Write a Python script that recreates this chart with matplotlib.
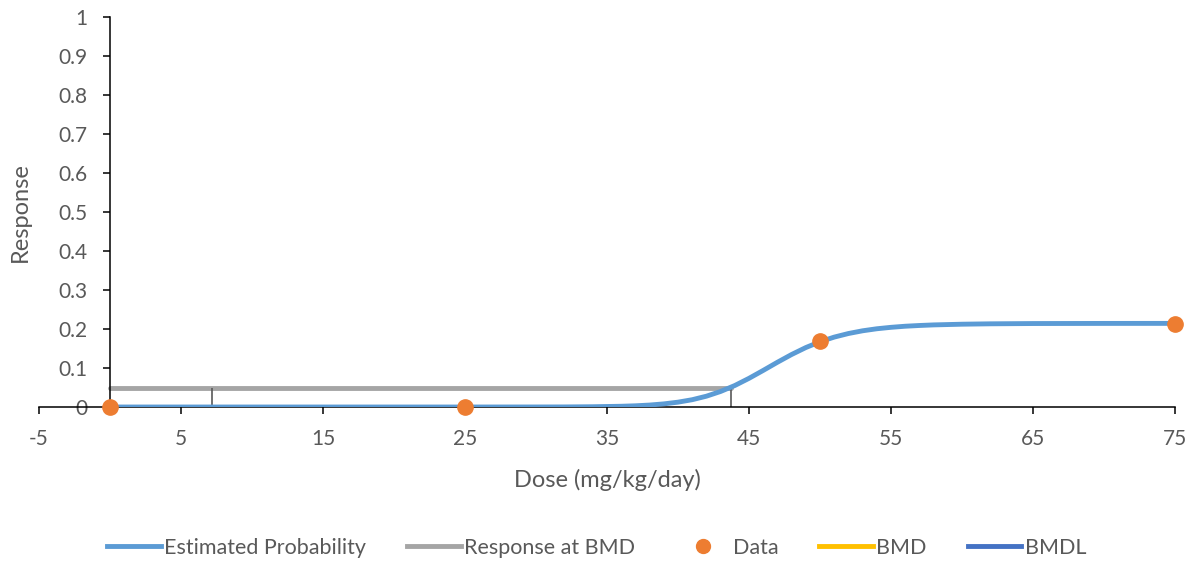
import matplotlib
matplotlib.use("Agg")
import matplotlib.pyplot as plt
from matplotlib.lines import Line2D

plt.rcParams['font.family'] = ['Lato', 'DejaVu Sans']

# Estimated probability curve
curve_dose = [0, 5, 10, 15, 20, 25, 30, 32, 34, 36, 37, 38, 39, 40, 41, 42, 43, 44,
              45, 46, 47, 48, 49, 50, 51, 52, 53, 54, 55, 56, 57, 58, 60, 62, 65, 70, 75]
curve_resp = [0.0, 0.0, 0.0, 0.0, 0.0, 0.0, 0.0001, 0.0002, 0.0007, 0.0019, 0.0031,
              0.0050, 0.0080, 0.0124, 0.0187, 0.0277, 0.0398, 0.0551, 0.0735, 0.0938,
              0.1147, 0.1346, 0.1524, 0.1673, 0.1792, 0.1884, 0.1954, 0.2006, 0.2043,
              0.2071, 0.2090, 0.2105, 0.2123, 0.2133, 0.2140, 0.2143, 0.2144]

# Observed data
data_dose = [0, 25, 50, 75]
data_resp = [0.0, 0.0, 0.168, 0.214]

# Benchmark values
bmd = 43.7
bmdl = 7.2
bmr = 0.05

x_ticks = [-5, 5, 15, 25, 35, 45, 55, 65, 75]
y_ticks = [0, 0.1, 0.2, 0.3, 0.4, 0.5, 0.6, 0.7, 0.8, 0.9, 1]
y_labels = ['0', '0.1', '0.2', '0.3', '0.4', '0.5', '0.6', '0.7', '0.8', '0.9', '1']

c_blue = '#5B9BD5'
c_gray = '#A5A5A5'
c_orange = '#ED7D31'
c_yellow = '#FFC000'
c_dblue = '#4472C4'
c_text = '#595959'

fig = plt.figure(figsize=(11.93, 5.61), dpi=100)
ax = fig.add_axes([39 / 1193, 1 - 407 / 561, 1136 / 1193, 390 / 561])

ax.plot(curve_dose, curve_resp, color=c_blue, lw=3.5, solid_capstyle='round', zorder=3)
ax.plot([0, bmd], [bmr, bmr], color=c_gray, lw=3.5, solid_capstyle='round', zorder=2)
ax.vlines([bmdl, bmd], 0, bmr, color=c_text, lw=1.2, zorder=2)
ax.plot(data_dose, data_resp, 'o', color=c_orange, ms=11, zorder=4, clip_on=False)

ax.set_xlim(-5, 75)
ax.set_ylim(0, 1)
ax.set_xticks(x_ticks)
ax.set_xticklabels([str(t) for t in x_ticks])
ax.set_yticks(y_ticks)
ax.set_yticklabels(y_labels)

for s in ['top', 'right']:
    ax.spines[s].set_visible(False)
ax.spines['left'].set_position(('data', 0))
ax.spines['left'].set_linewidth(1.1)
ax.spines['bottom'].set_linewidth(1.1)
ax.tick_params(axis='both', direction='out', length=5, width=1.1, labelsize=15,
               labelcolor=c_text, color='black')
ax.tick_params(axis='x', pad=11)
ax.tick_params(axis='y', pad=11)

ax.set_xlabel('Dose (mg/kg/day)', fontsize=17, color=c_text, labelpad=14)
fig.text(20 / 1193, 1 - 212 / 561, 'Response', rotation=90, fontsize=17,
         color=c_text, ha='center', va='center')

handles = [
    Line2D([], [], color=c_blue, lw=3.5),
    Line2D([], [], color=c_gray, lw=3.5),
    Line2D([], [], color=c_orange, marker='o', ls='none', ms=10),
    Line2D([], [], color=c_yellow, lw=3.5),
    Line2D([], [], color=c_dblue, lw=3.5),
]
labels = ['Estimated Probability', 'Response at BMD', 'Data', 'BMD', 'BMDL']
leg = fig.legend(handles, labels, loc='center', bbox_to_anchor=(0.5, 1 - 548 / 561),
                 ncol=5, frameon=False, fontsize=15.5, handlelength=2.5,
                 handletextpad=0.15, columnspacing=1.9)
for t in leg.get_texts():
    t.set_color(c_text)

fig.savefig('out.png', dpi=100)
